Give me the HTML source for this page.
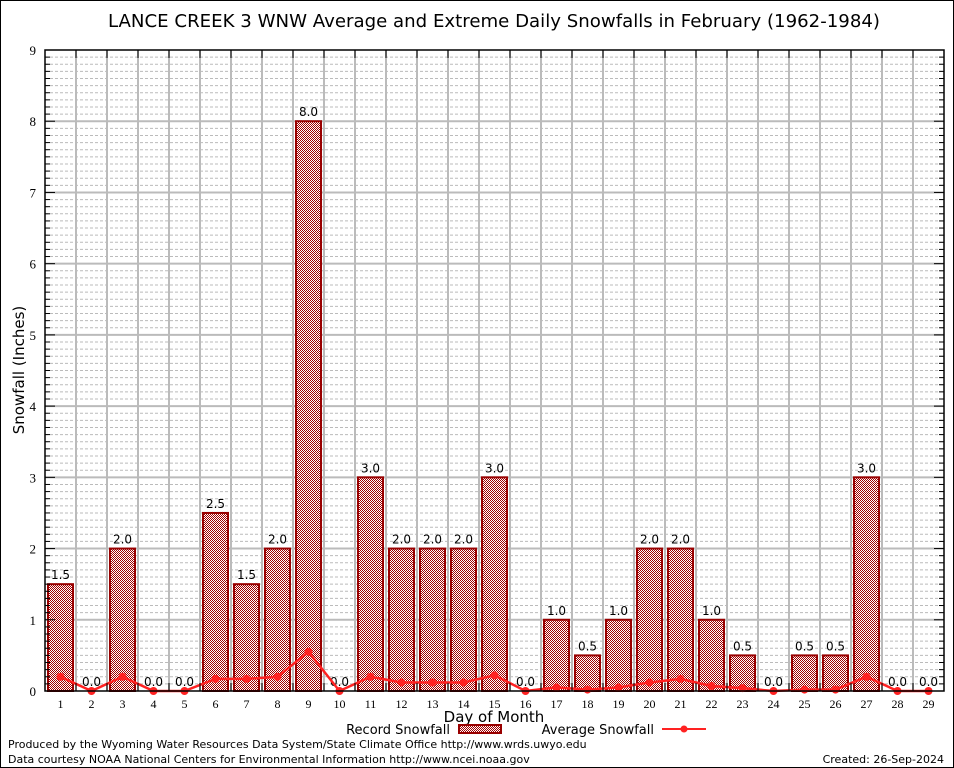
<!DOCTYPE html>
<html><head><meta charset="utf-8"><style>
html,body{margin:0;padding:0;background:#fff}
svg{display:block;font-family:"DejaVu Sans","Liberation Sans",sans-serif}
</style></head><body>
<svg id="c" width="954" height="768">
<defs><pattern id="chk" width="2" height="2" patternUnits="userSpaceOnUse"><rect width="2" height="2" fill="#fff"/><rect width="1" height="1" fill="#a00000"/><rect x="1" y="1" width="1" height="1" fill="#a00000"/></pattern></defs>
<rect x="0.5" y="0.5" width="953" height="767" fill="#fff" stroke="#000"/>
<text x="494" y="27" font-size="17.5" text-anchor="middle" textLength="772" lengthAdjust="spacingAndGlyphs">LANCE CREEK 3 WNW Average and Extreme Daily Snowfalls in February (1962-1984)</text>
<g id="grid"></g><g id="bars"></g><g id="line"></g><g id="axes"></g>
<text transform="translate(24,370) rotate(-90)" font-size="15" text-anchor="middle">Snowfall (Inches)</text>
<text x="494" y="722" font-size="15" text-anchor="middle">Day of Month</text>
<g><text x="450" y="734" font-size="13" text-anchor="end">Record Snowfall</text><rect x="459" y="725" width="42" height="8" fill="url(#chk)" stroke="#990000" stroke-width="2"/></g>
<g><text x="654" y="734" font-size="13" text-anchor="end">Average Snowfall</text><line x1="662" y1="729" x2="706" y2="729" stroke="#f22" stroke-width="2"/><circle cx="684" cy="729" r="3.5" fill="#f22"/></g>
<text x="8" y="748" font-size="11">Produced by the Wyoming Water Resources Data System/State Climate Office http://www.wrds.uwyo.edu</text>
<text x="8" y="763" font-size="11">Data courtesy NOAA National Centers for Environmental Information http://www.ncei.noaa.gov</text>
<text x="944" y="763" font-size="11" text-anchor="end">Created: 26-Sep-2024</text>
</svg>
<script>
const days=[1,2,3,4,5,6,7,8,9,10,11,12,13,14,15,16,17,18,19,20,21,22,23,24,25,26,27,28,29];
const recordSnow=[1.5,0,2,0,0,2.5,1.5,2,8,0,3,2,2,2,3,0,1,0.5,1,2,2,1,0.5,0,0.5,0.5,3,0,0];
const avgSnow=[0.2,0,0.2,0,0,0.17,0.17,0.2,0.55,0,0.2,0.12,0.12,0.12,0.22,0,0.05,0.02,0.05,0.12,0.17,0.07,0.04,0,0.02,0.02,0.2,0,0];
const yTicks=[0,1,2,3,4,5,6,7,8,9];
const L=45,R=944,T=50,B=691,YMAX=9;
const step=(R-L)/days.length;
const xs=i=>L+step*(i+0.5);
const ys=v=>B-(B-T)*v/YMAX;
const NS='http://www.w3.org/2000/svg';
function mk(p,t,a){const e=document.createElementNS(NS,t);for(const k in a)e.setAttribute(k,a[k]);p.appendChild(e);return e;}
const g=document.getElementById('grid'),gb=document.getElementById('bars'),gl=document.getElementById('line'),ga=document.getElementById('axes');
for(let k=1;k<YMAX*10;k++){if(k%10)mk(g,'line',{x1:L,x2:R,y1:ys(k/10),y2:ys(k/10),stroke:'#bbb','stroke-dasharray':'3,2'});}
yTicks.forEach(v=>{if(v>0&&v<YMAX)mk(g,'line',{x1:L,x2:R,y1:ys(v),y2:ys(v),stroke:'#bbb','stroke-width':2});
const t=mk(ga,'text',{x:L-9,y:ys(v)+5,'font-size':13,'text-anchor':'end','font-family':'Liberation Serif, serif'});t.textContent=v;

});
for(let i=1;i<days.length;i++)mk(g,'line',{x1:L+step*i,x2:L+step*i,y1:T,y2:B,stroke:'#bbb','stroke-width':2});
days.forEach((d,i)=>{const v=recordSnow[i],x=xs(i);
if(v>0){const r=mk(gb,'rect',{x:x-12.5,y:ys(v),width:25,height:B-ys(v),fill:'url(#chk)',stroke:'#990000','stroke-width':2});

}
const t=mk(gb,'text',{x:x,y:ys(v)-5,'font-size':12,'text-anchor':'middle'});t.textContent=v.toFixed(1);


const tl=mk(ga,'text',{x:x,y:B+17,'font-size':12,'text-anchor':'middle','font-family':'Liberation Serif, serif'});tl.textContent=d;

});
const pl=mk(gl,'polyline',{points:avgSnow.map((v,i)=>xs(i)+','+ys(v)).join(' '),fill:'none',stroke:'#f22','stroke-width':2.5});


avgSnow.forEach((v,i)=>{const c=mk(gl,'circle',{cx:xs(i),cy:ys(v),r:4,fill:'#f22'});

});
mk(ga,'rect',{x:L,y:T,width:R-L,height:B-T,fill:'none',stroke:'#000','stroke-width':1.5});
for(let k=1;k<YMAX*10;k++){mk(ga,'line',{x1:L,x2:L+(k%10?5:10),y1:ys(k/10),y2:ys(k/10),stroke:'#000'});mk(ga,'line',{x1:R,x2:R-(k%10?5:10),y1:ys(k/10),y2:ys(k/10),stroke:'#000'});}
for(let i=1;i<days.length;i++){mk(ga,'line',{x1:L+step*i,x2:L+step*i,y1:T,y2:T+8,stroke:'#000'});mk(ga,'line',{x1:L+step*i,x2:L+step*i,y1:B,y2:B-8,stroke:'#000'});}
</script>
</body></html>
